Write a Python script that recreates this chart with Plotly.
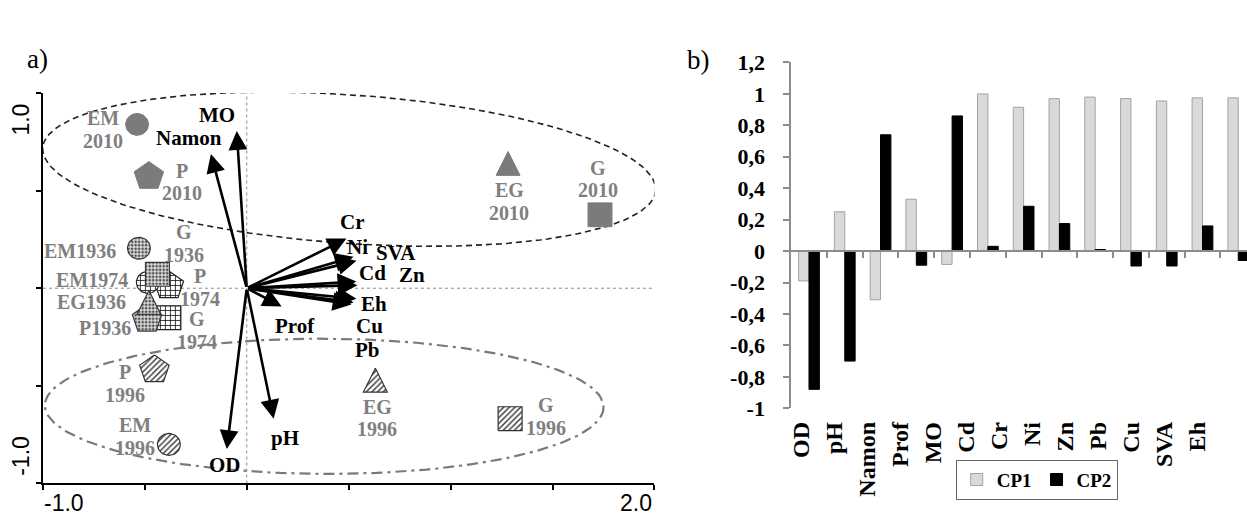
import math
import plotly.graph_objects as go

W, H = 1247, 526
SERIF = "Liberation Serif, Times New Roman, serif"
SANS = "Liberation Sans, Arial, sans-serif"

# ---------------- panel a) : PCA biplot ----------------
sample_names = ["EM2010", "P2010", "EG2010", "G2010", "EM1936", "P1974", "EM1974",
                "G1936", "G1974", "P1936", "EG1936", "P1996", "EM1996", "EG1996", "G1996"]
sample_cp1 = [-0.538, -0.480, 1.282, 1.733, -0.529, -0.382, -0.485,
              -0.438, -0.382, -0.489, -0.480, -0.453, -0.382, 0.631, 1.292]
sample_cp2 = [0.839, 0.580, 0.639, 0.376, 0.205, 0.020, 0.030,
              0.071, -0.151, -0.151, -0.073, -0.410, -0.800, -0.471, -0.668]
sample_labels = [["EM", "2010"], ["P", "2010"], ["EG", "2010"], ["G", "2010"], ["EM1936"],
                 ["P", "1974"], ["EM1974"], ["G", "1936"], ["G", "1974"], ["P1936"],
                 ["EG1936"], ["P", "1996"], ["EM", "1996"], ["EG", "1996"], ["G", "1996"]]

var_names = ["OD", "pH", "Namon", "Prof", "MO", "Cd", "Cr", "Ni", "Zn", "Pb", "Cu", "SVA", "Eh"]
var_bx = [-0.098, 0.132, -0.176, 0.171, -0.049, 0.538, 0.489, 0.524, 0.543, 0.514, 0.524, 0.538, 0.538]
var_by = [-0.824, -0.668, 0.688, -0.093, 0.805, 0.034, 0.254, 0.161, 0.015, -0.083, -0.073, 0.141, -0.054]

# ---------------- panel b) : loadings ----------------
cp1_loading = [-0.19, 0.25, -0.31, 0.33, -0.085, 1.0, 0.915, 0.97, 0.98, 0.97, 0.955, 0.975, 0.975]
cp2_loading = [-0.88, -0.70, 0.74, -0.09, 0.86, 0.03, 0.285, 0.175, 0.01, -0.095, -0.095, 0.16, -0.06]
ytick_vals = [-1, -0.8, -0.6, -0.4, -0.2, 0, 0.2, 0.4, 0.6, 0.8, 1, 1.2]
ytick_text = ["-1", "-0,8", "-0,6", "-0,4", "-0,2", "0", "0,2", "0,4", "0,6", "0,8", "1", "1,2"]

# ---------------- geometry helpers ----------------
A_LEFT, A_RIGHT, A_TOP, A_BOTTOM = 40, 653, 85, 495      # biplot frame (px)
PXU_X = (A_RIGHT - A_LEFT) / 3.0
PXU_Y = (A_BOTTOM - A_TOP) / 2.0
ORIGIN_PX = (A_LEFT + PXU_X, A_TOP + PXU_Y)
LINE_PITCH = 22.5                                        # px between stacked label lines


def px(x):
    return x / W


def py(y):
    return 1 - y / H


def to_data(xp, yp):
    return (xp - ORIGIN_PX[0]) / PXU_X, (ORIGIN_PX[1] - yp) / PXU_Y


SHAPE_OF_SITE = {"EM": "circle", "P": "pentagon", "EG": "triangle", "G": "square"}


def outline(kind, cx, cy):
    if kind == "circle":
        r = 11.5
        pts = [(r * math.cos(2 * math.pi * k / 48), r * math.sin(2 * math.pi * k / 48)) for k in range(49)]
    elif kind == "pentagon":
        R = 15.5
        off = 0.0955 * R
        pts = [(R * math.cos(math.radians(90 + 72 * k)), R * math.sin(math.radians(90 + 72 * k)) - off)
               for k in range(6)]
    elif kind == "triangle":
        w, h = 24, 25
        pts = [(0, h / 2), (-w / 2, -h / 2), (w / 2, -h / 2), (0, h / 2)]
    else:
        w, h = 24, 25
        pts = [(-w / 2, -h / 2), (w / 2, -h / 2), (w / 2, h / 2), (-w / 2, h / 2), (-w / 2, -h / 2)]
    return [cx + dx / PXU_X for dx, dy in pts], [cy + dy / PXU_Y for dx, dy in pts]


YEAR_STYLE = {
    "2010": dict(fillcolor="#7b7b7b", line=dict(color="#7b7b7b", width=1)),
    "1936": dict(fillcolor="#d8d8d8", line=dict(color="#3a3a3a", width=1.2),
                 fillpattern=dict(shape=".", bgcolor="#dedede", fgcolor="#4a4a4a", size=3.5, solidity=0.45,
                                  fillmode="replace")),
    "1974": dict(fillcolor="white", line=dict(color="#222222", width=1.2),
                 fillpattern=dict(shape="+", bgcolor="white", fgcolor="#111111", size=5, solidity=0.3,
                                  fillmode="replace")),
    "1996": dict(fillcolor="white", line=dict(color="#333333", width=1.2),
                 fillpattern=dict(shape="/", bgcolor="white", fgcolor="#333333", size=4, solidity=0.35,
                                  fillmode="replace")),
}

# label block centre offsets from marker centre (px, +down)
LABEL_OFFSET = {
    "EM2010": (-34, 5), "P2010": (33, 7), "EG2010": (1, 38), "G2010": (-2, -36),
    "EM1936": (-59, 3), "G1936": (27, -31), "EM1974": (-56, -2), "P1974": (31, 3),
    "EG1936": (-57, 0), "P1936": (-42, 10), "G1974": (28, 13), "P1996": (-29, 15),
    "EM1996": (-34, -8), "EG1996": (2, 38), "G1996": (36, -2),
}
# arrow label offsets from arrow tip (px, +down)
VAR_OFFSET = {
    "MO": (-20, -16), "Namon": (-22, -16), "Cr": (6, -17), "Ni": (4, -10), "SVA": (40, -8),
    "Cd": (16, -9), "Zn": (55, -10), "Eh": (18, 5), "Cu": (16, 24), "Pb": (16, 46),
    "Prof": (13, 20), "OD": (-2, 16), "pH": (11, 19),
}

# group ellipses, px geometry: centre, semi-axes, tilt (deg, screen), style
ELLIPSES = [
    dict(c=(347, 165), a=308, b=78, tilt=4.2, color="#222222", width=1.6, dash="6px,4px"),
    dict(c=(322, 414), a=280, b=71, tilt=0.2, color="#7a7a7a", width=2.2, dash="11px,5px,3px,5px"),
]

fig = go.Figure()

for e in ELLIPSES:
    th = math.radians(e["tilt"])
    xs, ys = [], []
    for k in range(201):
        t = 2 * math.pi * k / 200
        ux, uy = e["a"] * math.cos(t), e["b"] * math.sin(t)
        xp = e["c"][0] + ux * math.cos(th) - uy * math.sin(th)
        yp = e["c"][1] + ux * math.sin(th) + uy * math.cos(th)
        dx, dy = to_data(xp, yp)
        xs.append(dx)
        ys.append(dy)
    fig.add_trace(go.Scatter(x=xs, y=ys, mode="lines", hoverinfo="skip", showlegend=False,
                             line=dict(color=e["color"], width=e["width"], dash=e["dash"])))

for name, sx, sy in zip(sample_names, sample_cp1, sample_cp2):
    site = name.rstrip("0123456789")
    year = name[len(site):]
    xs, ys = outline(SHAPE_OF_SITE[site], sx, sy)
    fig.add_trace(go.Scatter(x=xs, y=ys, mode="lines", fill="toself", hoverinfo="skip",
                             showlegend=False, **YEAR_STYLE[year]))

for name, sx, sy, lines in zip(sample_names, sample_cp1, sample_cp2, sample_labels):
    ox, oy = LABEL_OFFSET[name]
    n = len(lines)
    for i, txt in enumerate(lines):
        ly = oy + (i - (n - 1) / 2) * LINE_PITCH
        fig.add_annotation(x=sx, y=sy, xref="x", yref="y", text=txt, showarrow=False,
                           xshift=ox, yshift=-ly, xanchor="center", yanchor="middle", borderpad=0,
                           font=dict(family=SERIF, size=20, color="#7f7f7f", weight="bold"))

for name, vx, vy in zip(var_names, var_bx, var_by):
    fig.add_annotation(x=vx, y=vy, ax=0, ay=0, xref="x", yref="y", axref="x", ayref="y",
                       text="", showarrow=True, arrowhead=2, arrowsize=1.45, arrowwidth=2.6,
                       arrowcolor="black", standoff=0)
    ox, oy = VAR_OFFSET[name]
    fig.add_annotation(x=vx, y=vy, xref="x", yref="y", text=name, showarrow=False,
                       xshift=ox, yshift=-oy, xanchor="center", yanchor="middle", borderpad=0,
                       font=dict(family=SERIF, size=21, color="black", weight="bold"))

# reference lines through the origin
fig.add_shape(type="line", xref="x", yref="y", x0=0, x1=0, y0=-1, y1=1,
              line=dict(color="#8a8a8a", width=1, dash="dot"), layer="below")
fig.add_shape(type="line", xref="x", yref="y", x0=-1, x1=2, y0=0, y1=0,
              line=dict(color="#8a8a8a", width=1, dash="dot"), layer="below")

# biplot axis tick labels
for txt, cx, cy, ang in [("1.0", 18, 113, -90), ("-1.0", 18, 466, -90),
                         ("-1.0", 61, 516, 0), ("2.0", 635, 516, 0)]:
    fig.add_annotation(x=px(cx), y=py(cy), xref="paper", yref="paper", text=txt, showarrow=False,
                       textangle=ang, xanchor="center", yanchor="middle",
                       font=dict(family=SANS, size=23, color="black"))

# ---------------- panel b) bars ----------------
idx = list(range(len(var_names)))
fig.add_trace(go.Bar(x=idx, y=cp1_loading, name="CP1", xaxis="x2", yaxis="y2",
                     marker=dict(color="#d9d9d9", line=dict(color="#a3a3a3", width=1)),
                     hoverinfo="skip"))
fig.add_trace(go.Bar(x=idx, y=cp2_loading, name="CP2", xaxis="x2", yaxis="y2",
                     marker=dict(color="black", line=dict(color="black", width=1)),
                     hoverinfo="skip"))
fig.add_trace(go.Scatter(x=idx, y=[0] * len(idx), mode="markers", marker=dict(opacity=0),
                         xaxis="x3", yaxis="y2", showlegend=False, hoverinfo="skip"))

B_LEFT, B_TOP, B_BOTTOM, B_ZERO = 790, 53, 416, 251
B_STEP = 35.86
B_FIRST = B_LEFT + B_STEP / 2
L_STEP, L_FIRST = 33.1, 800

# panel titles
fig.add_annotation(x=px(22), y=py(32), xref="paper", yref="paper", text="a)", showarrow=False,
                   font=dict(family=SERIF, size=27, color="black"))
fig.add_annotation(x=px(697), y=py(33), xref="paper", yref="paper", text="b)", showarrow=False,
                   font=dict(family=SERIF, size=27, color="black"))

fig.update_layout(
    width=W, height=H,
    margin=dict(l=0, r=0, t=0, b=0),
    paper_bgcolor="white", plot_bgcolor="white",
    barmode="group", bargap=0.42, bargroupgap=0,
    showlegend=True,
    legend=dict(orientation="h", x=px(955), y=py(470), xanchor="left", yanchor="top",
                bordercolor="#666666", borderwidth=1, bgcolor="white", itemwidth=30,
                font=dict(family=SERIF, size=19, color="black", weight="bold")),
    xaxis=dict(domain=[px(A_LEFT), px(A_RIGHT)], range=[-1, 2], anchor="y",
               showline=True, linecolor="black", linewidth=2, ticks="outside", ticklen=5,
               tickcolor="black", tickwidth=2, tickvals=[-1, -0.5, 0, 0.5, 1, 1.5, 2],
               showticklabels=False, showgrid=False, zeroline=False),
    yaxis=dict(domain=[py(A_BOTTOM), py(A_TOP)], range=[-1, 1], anchor="x",
               showline=True, linecolor="black", linewidth=2, ticks="outside", ticklen=5,
               tickcolor="black", tickwidth=2, tickvals=[-1, -0.5, 0, 0.5, 1],
               showticklabels=False, showgrid=False, zeroline=False),
    xaxis2=dict(domain=[px(B_LEFT), 1], range=[-0.5, (W - B_FIRST) / B_STEP],
                anchor="free", position=py(B_ZERO),
                showline=True, linecolor="#8c8c8c", linewidth=1.5, ticks="outside", ticklen=6,
                tickcolor="#8c8c8c", tickwidth=1.5, tickvals=[i + 0.5 for i in idx[:-1]],
                showticklabels=False, showgrid=False, zeroline=False),
    yaxis2=dict(domain=[py(B_BOTTOM), py(B_TOP)], range=[-1, 1.2], anchor="x2",
                showline=True, linecolor="#8c8c8c", linewidth=1.5, ticks="outside", ticklen=6,
                tickcolor="#8c8c8c", tickwidth=1.5, tickvals=ytick_vals, ticktext=ytick_text,
                ticklabelstandoff=14,
                tickfont=dict(family=SERIF, size=22, color="black", weight="bold"),
                showgrid=False, zeroline=False),
    xaxis3=dict(domain=[px(B_LEFT), 1], overlaying="x2", anchor="y2", side="bottom",
                range=[(B_LEFT - L_FIRST) / L_STEP, (W - L_FIRST) / L_STEP],
                tickvals=idx, ticktext=var_names, tickangle=-90, ticks="",
                ticklabelstandoff=8,
                tickfont=dict(family=SERIF, size=24, color="black", weight="bold"),
                showline=False, showgrid=False, zeroline=False),
)

fig.write_html("out.html")
